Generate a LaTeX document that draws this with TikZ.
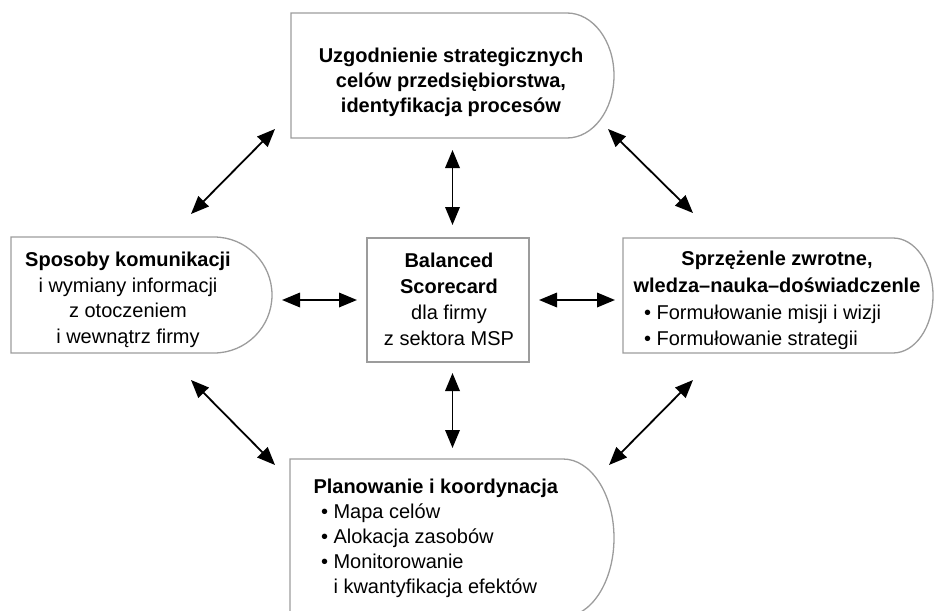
\documentclass[tikz,border=0pt]{standalone}
\usepackage{fontspec}
\setmainfont{Liberation Sans}
\usetikzlibrary{arrows.meta}
\definecolor{boxgray}{HTML}{9C9C9C}
\begin{document}
\begin{tikzpicture}[x=1pt,y=-1pt,
  frame/.style={inner sep=0pt, outer sep=0pt},
  outline/.style={draw=boxgray, line width=1.3pt},
  arr/.style={{Triangle[length=18pt,width=14.5pt]}-{Triangle[length=18pt,width=14.5pt]}, line width=1.8pt},
  txt/.style={inner sep=0pt, outer sep=0pt, font=\fontsize{20pt}{25.5pt}\selectfont},
]
\useasboundingbox (0,0) rectangle (936,610);
\clip (0,0) rectangle (936,610);

% box extents
\node[frame, minimum width=323pt, minimum height=125pt] (top) at (452.5,75.5) {};
\node[frame, minimum width=261pt, minimum height=116pt] (left) at (141.5,295) {};
\node[frame, minimum width=310pt, minimum height=115pt] (right) at (778,295.5) {};
\node[frame, minimum width=324pt, minimum height=158pt] (bottom) at (452,538) {};
\node[frame, minimum width=162pt, minimum height=124pt, outline] (mid) at (448,300) {};

% rounded outlines
\draw[outline] (top.north west) -- ([xshift=-47pt]top.north east)
  arc[start angle=90, end angle=-90, x radius=47pt, y radius=62.5pt] -- (top.south west) -- cycle;
\draw[outline] (left.north west) -- ([xshift=-58pt]left.north east)
  arc[start angle=90, end angle=-90, x radius=58pt, y radius=58pt] -- (left.south west) -- cycle;
\draw[outline] (right.north west) -- ([xshift=-40pt]right.north east)
  arc[start angle=90, end angle=-90, x radius=40pt, y radius=57.5pt] -- (right.south west) -- cycle;
\draw[outline] (bottom.north west) -- ([xshift=-51pt]bottom.north east)
  arc[start angle=90, end angle=-90, x radius=51pt, y radius=79pt] -- (bottom.south west) -- cycle;

% texts
\node[txt, font=\fontsize{20pt}{25pt}\selectfont\bfseries, align=center, anchor=north] (toptext) at (451,47.7)
  {Uzgodnienie strategicznych\\celów przedsiębiorstwa,\\identyfikacja procesów};
\node[txt, align=center, anchor=north] (lefttext) at (128,252.4)
  {\textbf{Sposoby komunikacji}\\i wymiany informacji\\z otoczeniem\\i wewnątrz firmy};
\node[txt, font=\fontsize{20pt}{26pt}\selectfont, align=center, anchor=north] (midtext) at (449,252.7)
  {\textbf{Balanced}\\\textbf{Scorecard}\\dla firmy\\z sektora MSP};
\node[txt, font=\fontsize{20pt}{26.5pt}\selectfont\bfseries, align=center, anchor=north] (righthead) at (777,251.4)
  {Sprzężenle zwrotne,\\wledza–nauka–doświadczenle};
\node[txt, font=\fontsize{20pt}{26pt}\selectfont, align=left, anchor=north west] (rightlist) at (644,304.7)
  {• Formułowanie misji i wizji\\• Formułowanie strategii};
\node[txt, font=\fontsize{20pt}{25pt}\selectfont, align=left, anchor=north west] (bottomtext) at (313.5,478.7)
  {\textbf{Planowanie i koordynacja}\\
   \hspace*{7.5pt}• Mapa celów\\
   \hspace*{7.5pt}• Alokacja zasobów\\
   \hspace*{7.5pt}• Monitorowanie\\
   \hspace*{7.5pt}\phantom{• }i kwantyfikacja efektów};

% straight connectors
\draw[arr] ([yshift=-12pt]top.south) -- ([yshift=13pt]top.south |- mid.north);
\draw[arr] ([yshift=-11pt]mid.south -| top.south) -- ([yshift=11pt]bottom.north -| top.south);
\draw[arr] ([xshift=10pt]left.east |- mid.west) -- ([xshift=-10pt]mid.west);
\draw[arr] ([xshift=10pt]mid.east) -- ([xshift=-8pt]right.west |- mid.east);

% diagonal connectors
\coordinate (a1) at (191,214); \coordinate (a2) at (275,129);
\coordinate (b1) at (608,129); \coordinate (b2) at (693,213);
\coordinate (c1) at (191,380); \coordinate (c2) at (275,465);
\coordinate (d1) at (693,380); \coordinate (d2) at (609,465);
\draw[arr] (a1) -- (a2);
\draw[arr] (b1) -- (b2);
\draw[arr] (c1) -- (c2);
\draw[arr] (d1) -- (d2);
\end{tikzpicture}
\end{document}
